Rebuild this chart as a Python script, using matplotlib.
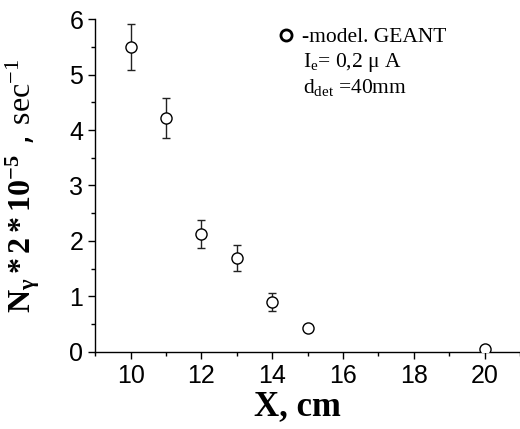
import numpy as np
import matplotlib.pyplot as plt
from matplotlib.lines import Line2D
from matplotlib.ticker import MultipleLocator

# dados
x_cm = [10, 11, 12, 13, 14, 15, 20]
n_gamma = [5.50, 4.21, 2.12, 1.69, 0.90, 0.44, 0.06]
erro = [0.41, 0.36, 0.25, 0.23, 0.17, 0.04, 0.05]

plt.rcParams['mathtext.fontset'] = 'custom'
plt.rcParams['mathtext.rm'] = 'Liberation Serif'
plt.rcParams['mathtext.it'] = 'Liberation Serif:italic'
plt.rcParams['mathtext.bf'] = 'Liberation Serif:bold'

fig = plt.figure(figsize=(5.2, 4.29), dpi=100)
ax = fig.add_axes([0.183, 0.1795, 0.817, 0.7762])

ax.errorbar(x_cm, n_gamma, yerr=erro, fmt='o', mfc='white', mec='black', mew=1.0,
            ms=8, ecolor='#222222', elinewidth=1.0, capsize=3, capthick=1.0, zorder=3)

ax.set_xlim(9, 21)
ax.set_ylim(0, 6)
ax.xaxis.set_major_locator(MultipleLocator(2))
ax.xaxis.set_minor_locator(MultipleLocator(1))
ax.yaxis.set_major_locator(MultipleLocator(1))
ax.yaxis.set_minor_locator(MultipleLocator(0.5))
ax.spines['top'].set_visible(False)
ax.spines['right'].set_visible(False)
for s in ['left', 'bottom']:
    ax.spines[s].set_linewidth(1.0)
ax.tick_params(which='major', direction='out', length=5, width=1, labelsize=18)
ax.tick_params(which='minor', direction='out', length=3, width=1)
for lab in ax.get_xticklabels() + ax.get_yticklabels():
    lab.set_family('Liberation Sans')

ax.set_xlabel('X, cm', fontsize=25, fontweight='bold', family='Liberation Serif')
ax.xaxis.set_label_coords(0.475, -0.115)
ax.set_ylabel(r'$\mathbf{N_{\gamma}*2*10^{-5}}$ , $\mathrm{sec^{-1}}$', fontsize=23)
ax.yaxis.set_label_coords(-0.125, 0.5)

handle = Line2D([], [], ls='none', marker='o', mfc='white', mec='black', mew=2, ms=8)
leg = ax.legend([handle], ['-model. GEANT'], loc='center left', bbox_to_anchor=(0.429, 0.945),
                frameon=False, handletextpad=0.32, handlelength=0.8, borderpad=0,
                borderaxespad=0, prop={'family': 'Liberation Serif', 'size': 15.5})
ax.text(0.489, 0.856, r'I$\mathrm{_e}$= 0,2 μ A', transform=ax.transAxes, fontsize=15.5,
        family='Liberation Serif', va='baseline')
ax.text(0.489, 0.778, r'd$\mathrm{_{det}}$ =40mm', transform=ax.transAxes, fontsize=15.5,
        family='Liberation Serif', va='baseline')

fig.savefig('out.png', dpi=100)
